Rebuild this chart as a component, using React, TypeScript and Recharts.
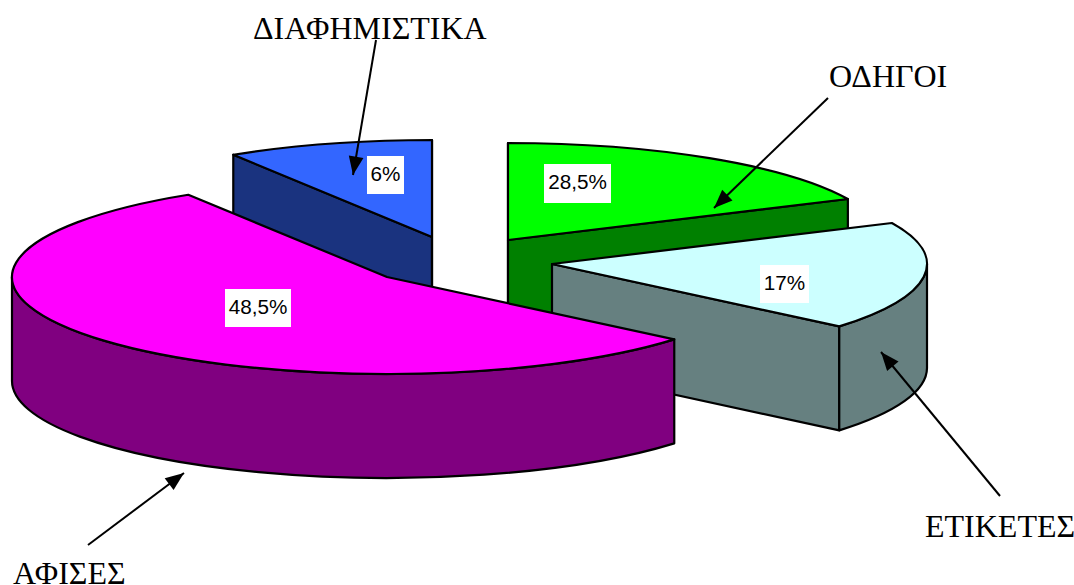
import { PieChart, Pie } from "recharts";

// Drawn share of each slice (degrees of the ellipse).
// The printed percentages do not match the drawn sizes, so they are kept apart.
const categories = ["ΔΙΑΦΗΜΙΣΤΙΚΑ", "ΟΔΗΓΟΙ", "ΕΤΙΚΕΤΕΣ", "ΑΦΙΣΕΣ"];
const drawnShares = [32, 65, 65, 198];
const printedLabels = ["6%", "28,5%", "17%", "48,5%"];

const data = categories.map((name, i) => ({ name, share: drawnShares[i] }));

const WIDTH = 1074;
const HEIGHT = 585;
const RY_RATIO = 97 / 375;
const DEPTH = 104;
const SERIF = "'Liberation Serif', 'Times New Roman', serif";
const SANS = "'Liberation Sans', Arial, sans-serif";

// dx/dy = exploded position of each slice's centre
const STYLES = [
  { top: "#3366ff", side: "#1a337f", dx: 432 - 470, dy: 237 - 260 },
  { top: "#00ff00", side: "#008000", dx: 508 - 470, dy: 240 - 260 },
  { top: "#ccffff", side: "#668080", dx: 552 - 470, dy: 264 - 260 },
  { top: "#ff00ff", side: "#800080", dx: 387 - 470, dy: 277 - 260 },
];

const PERCENT_BOX = [
  { x: 367, y: 156, w: 37, h: 38 },
  { x: 544, y: 164, w: 67, h: 39 },
  { x: 760, y: 265, w: 49, h: 38 },
  { x: 225, y: 289, w: 66, h: 38 },
];

const NAME_POS = [
  { x: 253, y: 39, arrow: [376, 40, 353, 175] },
  { x: 829, y: 87, arrow: [828, 98, 714, 208] },
  { x: 925, y: 537, arrow: [1000, 496, 881, 352] },
  { x: 13, y: 584, arrow: [88, 545, 184, 473] },
];

const rad = (deg: number) => (deg * Math.PI) / 180;

function Slice(props: any) {
  const { cx, cy, outerRadius, startAngle, endAngle, index } = props;
  const st = STYLES[index];
  const ax = cx + st.dx;
  const ay = cy + st.dy;
  const rx = outerRadius;
  const ry = outerRadius * RY_RATIO;
  const pt = (t: number) => [ax + rx * Math.cos(rad(t)), ay - ry * Math.sin(rad(t))];
  const arc = (to: number, from: number, y = 0, sweep = 1) => {
    const [x1, y1] = pt(to);
    const large = Math.abs(to - from) > 180 ? 1 : 0;
    return `A${rx} ${ry} 0 ${large} ${sweep} ${x1} ${y1 + y}`;
  };
  const [sx, sy] = pt(startAngle);
  const [ex, ey] = pt(endAngle);
  const common = { stroke: "#000", strokeWidth: 2.2, strokeLinejoin: "round" as const };

  // faces visible from the viewer's side
  const faces: string[] = [];
  if (Math.cos(rad(startAngle)) < 0.02) {
    faces.push(`M${ax} ${ay}L${sx} ${sy}L${sx} ${sy + DEPTH}L${ax} ${ay + DEPTH}Z`);
  }
  if (Math.cos(rad(endAngle)) > -0.02) {
    faces.push(`M${ax} ${ay}L${ex} ${ey}L${ex} ${ey + DEPTH}L${ax} ${ay + DEPTH}Z`);
  }

  // outer wall = part of the arc below the ellipse's major axis
  let wall = "";
  const wallStart = Math.min(startAngle, 0);
  const wallEnd = Math.max(endAngle, -180);
  if (endAngle < 0 && wallStart > wallEnd) {
    const [wx, wy] = pt(wallStart);
    const [zx, zy] = pt(wallEnd);
    wall =
      `M${wx} ${wy}` +
      arc(wallEnd, wallStart) +
      `L${zx} ${zy + DEPTH}` +
      arc(wallStart, wallEnd, DEPTH, 0) +
      "Z";
  }

  return (
    <g>
      {faces.map((d) => (
        <path key={d} d={d} fill={st.side} {...common} />
      ))}
      {wall && <path d={wall} fill={st.side} {...common} />}
      <path d={`M${ax} ${ay}L${sx} ${sy}${arc(endAngle, startAngle)}Z`} fill={st.top} {...common} />
    </g>
  );
}

function SliceLabel({ index }: any) {
  const box = PERCENT_BOX[index];
  const nm = NAME_POS[index];
  const [x1, y1, x2, y2] = nm.arrow;
  const a = Math.atan2(y2 - y1, x2 - x1);
  const head = (ang: number, len: number) =>
    `${x2 - len * Math.cos(a + ang)},${y2 - len * Math.sin(a + ang)}`;
  return (
    <g>
      <rect x={box.x} y={box.y} width={box.w} height={box.h} fill="#fff" />
      <text
        x={box.x + box.w / 2}
        y={box.y + box.h / 2 + 5.5}
        textAnchor="middle"
        fontFamily={SANS}
        fontSize={20.7}
        fill="#000"
      >
        {printedLabels[index]}
      </text>
      <text x={nm.x} y={nm.y} fontFamily={SERIF} fontSize={32} fill="#000">
        {categories[index]}
      </text>
      <line x1={x1} y1={y1} x2={x2} y2={y2} stroke="#000" strokeWidth={2} />
      <polygon points={`${x2},${y2} ${head(0.38, 20)} ${head(-0.38, 20)}`} fill="#000" />
    </g>
  );
}

export default function App() {
  return (
    <div style={{ position: "absolute", left: 0, top: 0, width: WIDTH, height: HEIGHT, background: "#fff" }}>
      <PieChart width={WIDTH} height={HEIGHT} margin={{ top: 0, right: 0, bottom: 0, left: 0 }}>
        <Pie
          data={data}
          dataKey="share"
          nameKey="name"
          cx={470}
          cy={260}
          innerRadius={0}
          outerRadius={375}
          startAngle={122}
          endAngle={-238}
          paddingAngle={0}
          stroke="none"
          shape={Slice}
          label={SliceLabel}
          labelLine={false}
          isAnimationActive={false}
        />
      </PieChart>
    </div>
  );
}
